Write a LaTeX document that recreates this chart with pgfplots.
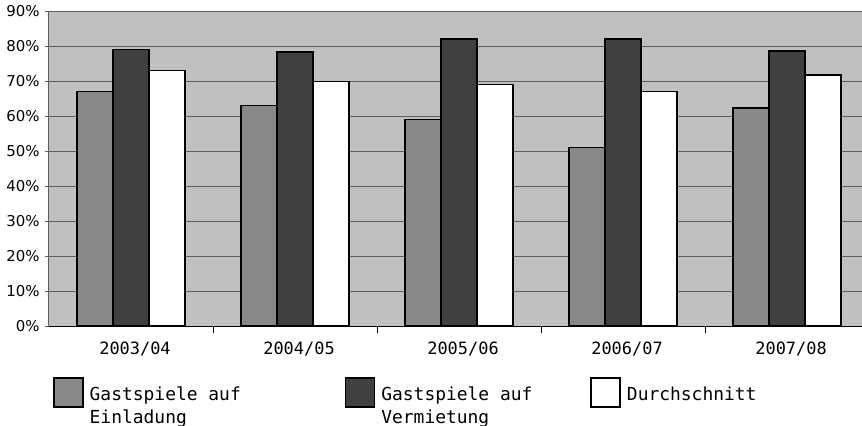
\documentclass[border=0pt]{standalone}
\usepackage{pgfplots}
\pgfplotsset{compat=1.18}
\usepackage{fontspec}
\setmainfont{DejaVu Sans}
\newfontfamily\monof{DejaVu Sans Mono}
\definecolor{bgc}{HTML}{C0C0C0}
\definecolor{gridc}{HTML}{5E5E5E}
\definecolor{barA}{HTML}{888888}
\definecolor{barB}{HTML}{404040}
\begin{document}
\begin{tikzpicture}
\begin{axis}[
  at={(0,0)}, anchor=south west,
  scale only axis, width=813bp, height=315bp,
  ybar=0pt, bar width=36bp,
  xmin=-0.5, xmax=4.457, ymin=0, ymax=90,
  axis background/.style={fill=bgc},
  axis x line*=bottom, axis y line*=left,
  x axis line style={draw=black, line width=1bp},
  y axis line style={draw=gridc, line width=1bp},
  ytick={0,10,...,90},
  yticklabel={\pgfmathprintnumber{\tick}\%},
  /pgf/number format/assume math mode=true,
  yticklabel style={font=\fontsize{15}{18}\selectfont, xshift=-2bp},
  ymajorgrids, grid style={draw=gridc, line width=1bp},
  ytick style={draw=gridc, line width=1bp},
  tick align=outside, major tick length=4bp,
  xtick={0,1,2,3,4},
  xticklabels={2003/04,2004/05,2005/06,2006/07,2007/08},
  xticklabel style={font=\monof\fontsize{17}{20}\selectfont, yshift=-8bp, xshift=4bp},
  xtick style={draw=none},
  extra x ticks={0.5,1.5,2.5,3.5},
  extra x tick labels={},
  extra x tick style={xtick style={draw=black, line width=1bp}, major tick length=7bp, tick align=outside, grid=none},
  legend columns=3,
  legend style={at={(0,0)}, anchor=north west, xshift=4bp, yshift=-51bp,
    draw=none, fill=none, inner sep=0pt,
    font=\monof\fontsize{18}{23}\selectfont,
    nodes={align=left},
    /tikz/column 1/.style={column sep=4bp},
    /tikz/column 2/.style={column sep=102bp},
    /tikz/column 3/.style={column sep=4bp},
    /tikz/column 4/.style={column sep=56bp},
    /tikz/column 5/.style={column sep=4bp}},
  legend cell align=left,
  legend image code/.code={\draw[#1, line width=1.5bp] (0bp,-1bp) rectangle (29bp,28bp);},
]
\addplot[fill=barA, draw=black, line width=1.5bp] coordinates {(0,67) (1,63) (2,59) (3,51) (4,62.3)};
\addlegendentry{Gastspiele auf\\Einladung}
\addplot[fill=barB, draw=black, line width=1.5bp] coordinates {(0,79) (1,78.3) (2,82) (3,82) (4,78.6)};
\addlegendentry{Gastspiele auf\\Vermietung}
\addplot[fill=white, draw=black, line width=1.5bp] coordinates {(0,73) (1,69.8) (2,69) (3,67) (4,71.7)};
\addlegendentry{Durchschnitt\\\mbox{}}
\end{axis}
\pgfresetboundingbox
\useasboundingbox (-49bp,-100bp) rectangle (813bp,326bp);
\end{tikzpicture}
\end{document}
